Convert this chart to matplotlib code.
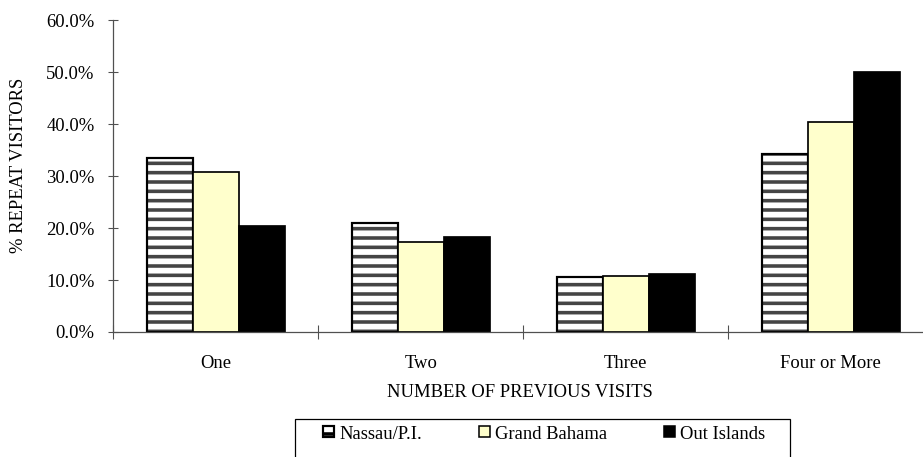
import numpy as np
import matplotlib.pyplot as plt
from matplotlib.patches import Patch, Rectangle

categories = ["One", "Two", "Three", "Four or More"]
nassau = [0.335, 0.210, 0.105, 0.342]
grand_bahama = [0.308, 0.173, 0.107, 0.404]
out_islands = [0.203, 0.182, 0.110, 0.500]
yticks = [0.0, 0.1, 0.2, 0.3, 0.4, 0.5, 0.6]

plt.rcParams["font.family"] = ["Liberation Serif", "DejaVu Serif"]
plt.rcParams["hatch.linewidth"] = 2.3

DPI = 112
fig = plt.figure(figsize=(923.4 / DPI, 457.4 / DPI), dpi=DPI)
ax = fig.add_axes([113 / 923, 1 - 331.7 / 457, 820 / 923, 311.2 / 457])

x = np.arange(len(categories))
w = 0.224
yellow = "#FFFFCC"

# striped series: hatch layer first, then the black outline on top
ax.bar(x - w, nassau, w, color="white", edgecolor="#454545", hatch="--", linewidth=0)
ax.bar(x - w, nassau, w, fill=False, edgecolor="black", linewidth=1.4)
ax.bar(x, grand_bahama, w, color=yellow, edgecolor="black", linewidth=1.1)
ax.bar(x + w, out_islands, w, color="black", edgecolor="black", linewidth=1.1)

ax.set_xlim(-0.5, 3.5)
ax.set_ylim(0, 0.6)
ax.set_yticks(yticks)
ax.set_yticklabels([f"{v * 100:.1f}%" for v in yticks])

# category boundaries carry the tick marks, centres carry the labels
ax.set_xticks(np.arange(-0.5, 3.5, 1.0))
ax.set_xticklabels([])
ax.set_xticks(x, minor=True)
ax.set_xticklabels(categories, minor=True)
ax.tick_params(axis="x", which="major", direction="inout", length=8.5, width=0.7, color="#505050")
ax.tick_params(axis="x", which="minor", length=0, pad=14.5, labelsize=12)
ax.tick_params(axis="y", direction="inout", length=7, width=0.7, color="#505050", pad=8.5, labelsize=12)

for side in ["top", "right"]:
    ax.spines[side].set_visible(False)
for side in ["left", "bottom"]:
    ax.spines[side].set_color("#505050")
    ax.spines[side].set_linewidth(0.8)

ax.set_xlabel("NUMBER OF PREVIOUS VISITS", fontsize=12)
ax.xaxis.set_label_coords(0.496, -0.168)
ax.set_ylabel("% REPEAT VISITORS", fontsize=12)
ax.yaxis.set_label_coords(-0.105, 0.536)

handles = [
    Patch(facecolor="white", edgecolor="black", hatch="--", linewidth=1.4),
    Patch(facecolor=yellow, edgecolor="black", linewidth=1.0),
    Patch(facecolor="black", edgecolor="black", linewidth=1.0),
]
fig.legend(handles, ["Nassau/P.I.", "Grand Bahama", "Out Islands"],
           loc="center", bbox_to_anchor=(544 / 923, 1 - 434 / 457),
           ncol=3, frameon=False, fontsize=12, handlelength=0.6, handleheight=0.55,
           handletextpad=0.3, columnspacing=3.0)
fig.add_artist(Rectangle((295 / 923, -0.05), 495 / 923, 1 - 419 / 457 + 0.05,
                         transform=fig.transFigure, fill=False, edgecolor="black", linewidth=0.8))

fig.savefig("out.png", dpi=DPI)
